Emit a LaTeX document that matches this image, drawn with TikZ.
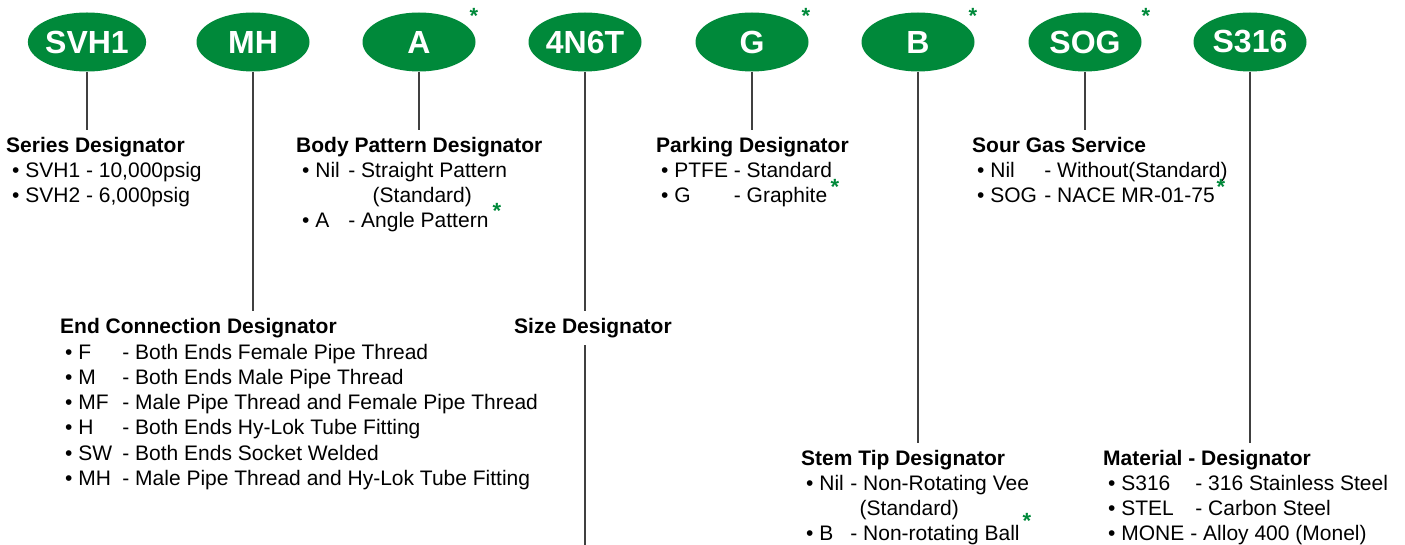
\documentclass[tikz,border=0pt]{standalone}
\usepackage{fontspec}
\setmainfont{Liberation Sans}
\usetikzlibrary{shapes.geometric}
\definecolor{valvegreen}{RGB}{0,137,58}
\newcommand{\codebox}[2]{\makebox[#1][l]{#2}}

\begin{document}
\begin{tikzpicture}[x=1pt,y=-1pt,font=\fontsize{21}{25}\selectfont]
\tikzstyle{codeoval}=[ellipse,fill=valvegreen,minimum width=113pt,minimum height=59pt,inner sep=0pt,text=white,font=\fontsize{32}{32}\selectfont\bfseries]
\tikzstyle{hd}=[anchor=base west,inner xsep=0pt,inner ysep=7pt,font=\fontsize{21}{25}\selectfont\bfseries]
\tikzstyle{itemtxt}=[anchor=base west,inner sep=0pt]
\tikzstyle{greenstar}=[anchor=base,inner sep=0pt,text=valvegreen,font=\fontsize{22}{25}\selectfont\bfseries]
\tikzstyle{link}=[draw=black!75,line width=1.2pt]
\useasboundingbox (0,0) rectangle (1405,545);

% the part number
\node[codeoval] (svh)  at (87,42)   {SVH1};
\node[codeoval] (mh)   at (253,42)  {MH};
\node[codeoval] (pat)  at (419,42)  {A};
\node[codeoval] (sz)   at (585,42)  {4N6T};
\node[codeoval] (pack) at (752,42)  {G};
\node[codeoval] (tip)  at (918,42)  {B};
\node[codeoval] (sog)  at (1085,42) {SOG};
\node[codeoval] (mat)  at (1250,42) {S316};

% upper row
\node[hd] (serieshd) at (6,152.5) {Series Designator};
\node[itemtxt] (svh1) at (12,177.5) {\textbullet\ SVH1 - 10,000psig};
\node[itemtxt] (svh2) at (12,202.5) {\textbullet\ SVH2 - 6,000psig};

\node[hd] (bodyhd) at (296,152.5) {Body Pattern Designator};
\node[itemtxt] (bodynil) at (302,177.5) {\textbullet\ \codebox{33pt}{Nil}- Straight Pattern};
\node[itemtxt] (bodystd) at (372.5,203) {(Standard)};
\node[itemtxt] (bodya)   at (302,228) {\textbullet\ \codebox{33pt}{A}- Angle Pattern};

\node[hd] (packhd) at (656,152.5) {Parking Designator};
\node[itemtxt] (packptfe) at (661,177.5) {\textbullet\ \codebox{59.5pt}{PTFE}- Standard};
\node[itemtxt] (packg)    at (661,202.5) {\textbullet\ \codebox{59.5pt}{G}- Graphite};

\node[hd] (sourhd) at (972,152.5) {Sour Gas Service};
\node[itemtxt] (sournil) at (977,177.5) {\textbullet\ \codebox{54pt}{Nil}- Without(Standard)};
\node[itemtxt] (sourog)  at (977,202.5) {\textbullet\ \codebox{54pt}{SOG}- NACE MR-01-75};

% middle row
\node[hd] (endhd) at (60,333.5) {End Connection Designator};
\foreach \c/\t [count=\i from 0] in {F/Both Ends Female Pipe Thread,M/Both Ends Male Pipe Thread,MF/Male Pipe Thread and Female Pipe Thread,H/Both Ends Hy-Lok Tube Fitting,SW/Both Ends Socket Welded,MH/Male Pipe Thread and Hy-Lok Tube Fitting}
  \node[itemtxt] (end\c) at (65,{359+25.3*\i}) {\textbullet\ \codebox{44pt}{\c}- \t};

\node[hd] (sizehd) at (514,333.5) {Size Designator};

% lower row
\node[hd] (stemhd) at (801,465.5) {Stem Tip Designator};
\node[itemtxt] (stemnil) at (806,490.5) {\textbullet\ \codebox{31pt}{Nil}- Non-Rotating Vee};
\node[itemtxt] (stemstd) at (859.5,515.5) {(Standard)};
\node[itemtxt] (stemb)   at (806,540.5) {\textbullet\ \codebox{31pt}{B}- Non-rotating Ball};

\node[hd] (mathd) at (1103,465.5) {Material - Designator};
\foreach \w/\c/\t [count=\i from 0] in {74pt/S316/316 Stainless Steel,74pt/STEL/Carbon Steel,69pt/MONE/Alloy 400 (Monel)}
  \node[itemtxt] (mat\c) at (1108,{490.5+25*\i}) {\textbullet\ \codebox{\w}{\c}- \t};

% connectors
\coordinate (bottom) at (585,545);
\draw[link] (svh.south)  -- (svh.south |- serieshd.north);
\draw[link] (mh.south)   -- (mh.south |- endhd.north);
\draw[link] (pat.south)  -- (pat.south |- bodyhd.north);
\draw[link] (sz.south)   -- (sz.south |- sizehd.north);
\draw[link] (sz.south |- sizehd.south) -- (bottom);
\draw[link] (pack.south) -- (pack.south |- packhd.north);
\draw[link] (tip.south)  -- (tip.south |- stemhd.north);
\draw[link] (sog.south)  -- (sog.south |- sourhd.north);
\draw[link] (mat.south)  -- (mat.south |- mathd.north);

% option marks
\node[greenstar] (stA)    at (474,24)   {*};
\node[greenstar] (stG)    at (806,24)   {*};
\node[greenstar] (stB)    at (973,24)   {*};
\node[greenstar] (stSOG)  at (1146,24)  {*};
\node[greenstar] (stbody) at (497,219)  {*};
\node[greenstar] (stpack) at (835,195)  {*};
\node[greenstar] (stsour) at (1221,195) {*};
\node[greenstar] (ststem) at (1027,528) {*};
\end{tikzpicture}
\end{document}
